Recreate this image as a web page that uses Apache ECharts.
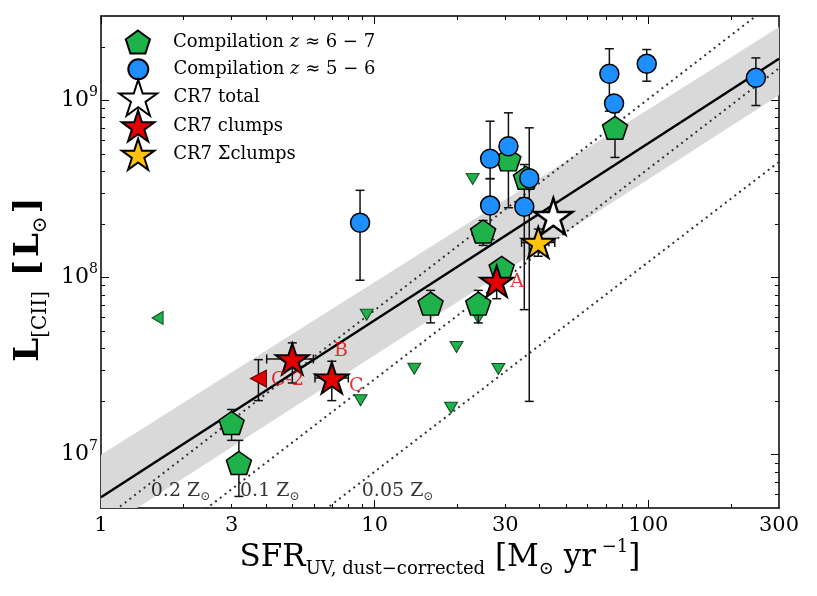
<!DOCTYPE html>
<html><head><meta charset="utf-8">
<script src="https://cdn.jsdelivr.net/npm/echarts@6/dist/echarts.min.js"></script>
<style>html,body{margin:0;padding:0;background:#fff}#c{width:817px;height:596px}</style>
</head><body><div id="c"></div>
<script>
// ---------------- data ----------------
// Compilation z~6-7 (pentagons)
const pentX = [3.00, 3.19, 16.0, 23.9, 24.9, 29.1, 30.8, 35.7, 75.5];
const pentY = [1.51e7, 8.98e6, 7.13e7, 7.13e7, 1.82e8, 1.135e8, 4.65e8, 3.66e8, 7.01e8];
const pentLo = [1.205e7, 5.81e6, 5.55e7, 5.55e7, 1.52e8, null, null, null, 4.77e8];
const pentHi = [1.80e7, 1.205e7, 8.47e7, 8.47e7, 2.10e8, null, null, null, 8.56e8];
// Compilation z~5-6 (circles)
const circX = [8.84, 26.4, 30.8, 26.4, 35.2, 36.7, 72.0, 74.9, 98.6, 247];
const circY = [2.04e8, 4.69e8, 5.52e8, 2.55e8, 2.51e8, 3.64e8, 1.415e9, 9.62e8, 1.61e9, 1.343e9];
const circLo = [9.66e7, 3.62e8, 2.48e8, 1.64e8, 6.59e7, 2.0e7, 8.70e8, null, 1.285e9, 9.37e8];
const circHi = [3.11e8, 7.64e8, 8.52e8, 3.62e8, 4.35e8, 7.01e8, 1.96e9, null, 1.94e9, 1.74e9];
// upper limits z~6-7 (down triangles)
const triX = [9.35, 8.88, 13.95, 19.9, 19.0, 28.3, 22.8, 23.9];
const triY = [6.18e7, 2.03e7, 3.06e7, 4.06e7, 1.84e7, 3.05e7, 3.61e8, 5.92e7];
// limits in SFR (left triangles)
const limX = [1.61];
const limY = [5.92e7];
// CR7
const totalX = [44.95], totalY = [2.22e8];
const clumpX = [27.9, 5.00, 6.97];
const clumpY = [9.53e7, 3.47e7, 2.71e7];
const clumpLo = [7.6e7, 2.54e7, 2.02e7];
const clumpHi = [1.16e8, 4.28e7, 3.37e7];
const clumpXLo = [null, 4.03, 6.05];
const clumpXHi = [null, 5.97, 8.01];
const sumX = [39.6], sumY = [1.58e8], sumLo = [1.32e8], sumHi = [1.88e8], sumXLo = [34.4], sumXHi = [45.5];
const c2X = [3.76], c2Y = [2.69e7], c2Lo = [2.02e7], c2Hi = [3.44e7];
// relation, band and metallicity model lines
const lineX = [1, 300];
const relY = [5.75e6, 1.72e9];
const bandLo = [3.7e6, 1.07e9];
const bandHi = [1.0e7, 2.6e9];
const z02Y = [4.21e6, 3.78e9];
const z01Y = [1.73e6, 1.52e9];
const z005Y = [5.25e5, 4.5e8];
// annotations
const zLabText = ['0.2 Z{s|⊙}', '0.1 Z{s|⊙}', '0.05 Z{s|⊙}'];
const zLabX = [1.52, 3.22, 8.97];
const zLabY = [6.27e6, 6.27e6, 6.27e6];
const clumpLabText = ['A', 'B', 'C', 'C-2'];
const clumpLabX = [31.3, 7.10, 8.06, 4.18];
const clumpLabY = [9.4e7, 3.83e7, 2.43e7, 2.65e7];
// ticks
const xMajor = [1, 10, 100];
const xMinor = [2,3,4,5,6,7,8,9,20,30,40,50,60,70,80,90,200];
const xLabels = [1, 3, 10, 30, 100, 300];
const yMajor = [1e7, 1e8, 1e9];
const yMinor = [6e6,7e6,8e6,9e6,2e7,3e7,4e7,5e7,6e7,7e7,8e7,9e7,2e8,3e8,4e8,5e8,6e8,7e8,8e8,9e8,2e9];

// ---------------- helpers ----------------
const FONT = 'DejaVu Serif';
function starPath() {
  const p = [];
  for (let i = 0; i < 10; i++) {
    const r = i % 2 === 0 ? 1 : 0.381966;
    const a = (-90 + i * 36) * Math.PI / 180;
    p.push((r * Math.cos(a)).toFixed(4) + ',' + (r * Math.sin(a)).toFixed(4));
  }
  return 'path://M' + p.join(' L') + ' Z';
}
function polyPath(n) {
  const p = [];
  for (let i = 0; i < n; i++) {
    const a = (-90 + i * 360 / n) * Math.PI / 180;
    p.push(Math.cos(a).toFixed(4) + ',' + Math.sin(a).toFixed(4));
  }
  return 'path://M' + p.join(' L') + ' Z';
}
const STAR = starPath();
const PENT = polyPath(5);
const TRI_DOWN = 'path://M0,0 L10,0 L5,9 Z';
const TRI_LEFT = 'path://M9,0 L9,10 L0,5 Z';
const zip = (a, b) => a.map((v, i) => [v, b[i]]);

const vErr = [], hErr = [];
function addV(xs, lo, hi) { xs.forEach((x, i) => { if (lo[i] != null && hi[i] != null) vErr.push([x, lo[i], hi[i]]); }); }
function addH(ys, lo, hi) { ys.forEach((y, i) => { if (lo[i] != null && hi[i] != null) hErr.push([y, lo[i], hi[i]]); }); }
addV(pentX, pentLo, pentHi);
addV(circX, circLo, circHi);
addV(clumpX, clumpLo, clumpHi);
addH(clumpY, clumpXLo, clumpXHi);
addV(sumX, sumLo, sumHi);
addH(sumY, sumXLo, sumXHi);
addV(c2X, c2Lo, c2Hi);

const ERR = { stroke: '#111', lineWidth: 1.5 };
const CAP = 4.5;
function vErrRender(params, api) {
  const a = api.coord([api.value(0), api.value(1)]);
  const b = api.coord([api.value(0), api.value(2)]);
  return { type: 'group', children: [
    { type: 'line', shape: { x1: a[0], y1: a[1], x2: b[0], y2: b[1] }, style: ERR },
    { type: 'line', shape: { x1: a[0] - CAP, y1: a[1], x2: a[0] + CAP, y2: a[1] }, style: ERR },
    { type: 'line', shape: { x1: b[0] - CAP, y1: b[1], x2: b[0] + CAP, y2: b[1] }, style: ERR }
  ]};
}
function hErrRender(params, api) {
  const a = api.coord([api.value(1), api.value(0)]);
  const b = api.coord([api.value(2), api.value(0)]);
  return { type: 'group', children: [
    { type: 'line', shape: { x1: a[0], y1: a[1], x2: b[0], y2: b[1] }, style: ERR },
    { type: 'line', shape: { x1: a[0], y1: a[1] - CAP, x2: a[0], y2: a[1] + CAP }, style: ERR },
    { type: 'line', shape: { x1: b[0], y1: b[1] - CAP, x2: b[0], y2: b[1] + CAP }, style: ERR }
  ]};
}
function bandRender(params, api) {
  const pts = [];
  lineX.forEach((x, i) => pts.push(api.coord([x, bandHi[i]])));
  for (let i = lineX.length - 1; i >= 0; i--) pts.push(api.coord([lineX[i], bandLo[i]]));
  return { type: 'polygon', shape: { points: pts }, style: { fill: '#d9d9d9' } };
}

// ---------------- axes ----------------
function xAx(pos, ticks, len, withLabels, showLine) {
  const ax = {
    type: 'log', logBase: 10, min: 1, max: 300, position: pos, gridIndex: 0,
    axisLine: { show: showLine, lineStyle: { color: '#000', width: 1.5 } },
    axisTick: { show: true, inside: true, length: len, customValues: ticks, lineStyle: { color: '#000', width: 1 } },
    axisLabel: { show: false },
    splitLine: { show: false }, minorTick: { show: false }, minorSplitLine: { show: false }
  };
  if (withLabels) {
    ax.axisLabel = { show: true, customValues: xLabels, showMinLabel: true, showMaxLabel: true, hideOverlap: false,
      fontFamily: FONT, fontSize: 21, color: '#000', margin: 7,
      formatter: v => String(Math.round(v)) };
    ax.name = 'SFR{sub|UV, dust−corrected} [M{sub|⊙} yr{sup| −1}]';
    ax.nameLocation = 'middle';
    ax.nameGap = 30;
    ax.nameMoveOverlap = false;
    ax.nameTextStyle = { fontFamily: FONT, fontSize: 31, color: '#000', lineHeight: 40,
      rich: { sub: { fontFamily: FONT, fontSize: 18, lineHeight: 19, verticalAlign: 'bottom', color: '#000' },
              sup: { fontFamily: FONT, fontSize: 18, lineHeight: 25, verticalAlign: 'top', color: '#000' } } };
  }
  return ax;
}
function yAx(pos, ticks, len, withLabels, showLine) {
  const ax = {
    type: 'log', logBase: 10, min: 5e6, max: 3e9, position: pos, gridIndex: 0,
    axisLine: { show: showLine, lineStyle: { color: '#000', width: 1.5 } },
    axisTick: { show: true, inside: true, length: len, customValues: ticks, lineStyle: { color: '#000', width: 1 } },
    axisLabel: { show: false },
    splitLine: { show: false }, minorTick: { show: false }, minorSplitLine: { show: false }
  };
  if (withLabels) {
    ax.axisLabel = { show: true, customValues: yMajor, showMinLabel: true, showMaxLabel: true, hideOverlap: false,
      fontFamily: FONT, fontSize: 22, color: '#000', margin: 3, lineHeight: 30,
      formatter: v => '10{sup|' + Math.round(Math.log10(v)) + '}',
      rich: { sup: { fontFamily: FONT, fontSize: 14, lineHeight: 14, verticalAlign: 'top', color: '#000' } } };
    ax.name = '{b|L}{s|[CII]}{sp| }{br|[}{b|L}{s|⊙}{br|]}';
    ax.nameLocation = 'middle';
    ax.nameGap = 50;
    ax.nameMoveOverlap = false;
    ax.nameTextStyle = { fontFamily: FONT, fontSize: 34, fontWeight: 'bold', color: '#000', lineHeight: 44,
      padding: [0, 32, 0, 0],
      rich: { b: { fontFamily: FONT, fontSize: 34, fontWeight: 'bold', lineHeight: 44, color: '#000' },
              br: { fontFamily: FONT, fontSize: 34, fontWeight: 'bold', lineHeight: 44, color: '#000', padding: [0, 3, 0, 3] },
              sp: { fontFamily: FONT, fontSize: 34, fontWeight: 'bold', lineHeight: 44, color: '#000' },
              s: { fontFamily: FONT, fontSize: 20, fontWeight: 'normal', lineHeight: 21, verticalAlign: 'bottom', color: '#000' } } };
  }
  return ax;
}

// ---------------- series ----------------
const NAME_P = 'Compilation z ≈ 6 − 7';
const NAME_C = 'Compilation z ≈ 5 − 6';
const NAME_T = 'CR7 total';
const NAME_K = 'CR7 clumps';
const NAME_S = 'CR7 Σclumps';
const GREEN = '#1fb24b', BLUE = '#1e8fff', RED = '#e30000', GOLD = '#ffc30f';
const DOT = { color: '#333', width: 2, type: [2, 4] };

const series = [
  { type: 'custom', name: 'band', renderItem: bandRender, data: [[lineX[0], relY[0]]], encode: { x: 0, y: 1 }, clip: true, silent: true, z: 1 },
  { type: 'line', name: 'z02', data: zip(lineX, z02Y), symbol: 'none', silent: true, z: 2, lineStyle: DOT },
  { type: 'line', name: 'z01', data: zip(lineX, z01Y), symbol: 'none', silent: true, z: 2, lineStyle: DOT },
  { type: 'line', name: 'z005', data: zip(lineX, z005Y), symbol: 'none', silent: true, z: 2, lineStyle: DOT },
  { type: 'line', name: 'rel', data: zip(lineX, relY), symbol: 'none', silent: true, z: 3, lineStyle: { color: '#000', width: 2.5 } },
  { type: 'scatter', name: 'triDown', data: zip(triX, triY), symbol: TRI_DOWN, symbolSize: [13, 11], z: 4,
    itemStyle: { color: GREEN, borderColor: '#0d4a1e', borderWidth: 1, opacity: 1 } },
  { type: 'scatter', name: 'triLeft', data: zip(limX, limY), symbol: TRI_LEFT, symbolSize: [11, 13], z: 4,
    itemStyle: { color: GREEN, borderColor: '#0d4a1e', borderWidth: 1, opacity: 1 } },
  { type: 'custom', name: 'vErr', renderItem: vErrRender, data: vErr, encode: { x: 0, y: [1, 2] }, clip: true, silent: true, z: 5 },
  { type: 'custom', name: 'hErr', renderItem: hErrRender, data: hErr, encode: { y: 0, x: [1, 2] }, clip: true, silent: true, z: 5 },
  { type: 'scatter', name: NAME_P, data: zip(pentX, pentY), symbol: PENT, symbolSize: [25, 23], z: 6,
    itemStyle: { color: GREEN, borderColor: '#000', borderWidth: 1.5, opacity: 1 } },
  { type: 'scatter', name: NAME_C, data: zip(circX, circY), symbol: 'circle', symbolSize: 19, z: 7,
    itemStyle: { color: BLUE, borderColor: '#000', borderWidth: 1.5, opacity: 1 } },
  { type: 'scatter', name: 'C-2', data: zip(c2X, c2Y), symbol: TRI_LEFT, symbolSize: [16, 17], z: 8,
    itemStyle: { color: RED, borderColor: '#5a0000', borderWidth: 1, opacity: 1 } },
  { type: 'scatter', name: NAME_T, data: zip(totalX, totalY), symbol: STAR, symbolSize: [38, 36], z: 8,
    itemStyle: { color: '#fff', borderColor: '#000', borderWidth: 2.5, opacity: 1 } },
  { type: 'scatter', name: NAME_K, data: zip(clumpX, clumpY), symbol: STAR, symbolSize: [33, 31], z: 8,
    itemStyle: { color: RED, borderColor: '#000', borderWidth: 2, opacity: 1 } },
  { type: 'scatter', name: NAME_S, data: zip(sumX, sumY), symbol: STAR, symbolSize: [33, 31], z: 8,
    itemStyle: { color: GOLD, borderColor: '#000', borderWidth: 2, opacity: 1 } },
  { type: 'scatter', name: 'zlabels', data: zip(zLabX, zLabY),
    symbolSize: 0, silent: true, z: 9,
    label: { show: true, position: [0, 0], align: 'left', verticalAlign: 'middle',
      formatter: p => zLabText[p.dataIndex], fontFamily: FONT, fontSize: 19, color: '#000', lineHeight: 24,
      rich: { s: { fontFamily: FONT, fontSize: 12, lineHeight: 12, verticalAlign: 'bottom', color: '#000' } } } },
  { type: 'scatter', name: 'clabels', data: zip(clumpLabX, clumpLabY),
    symbolSize: 0, silent: true, z: 9,
    label: { show: true, position: [0, 0], align: 'left', verticalAlign: 'middle',
      formatter: p => clumpLabText[p.dataIndex], fontFamily: FONT, fontSize: 19, color: RED } }
];

// ---------------- legends ----------------
function leg(name, icon, w, h, cy, text) {
  const left = 137.3 - w / 2;
  return {
    data: [{ name: name, icon: icon }], selectedMode: false, orient: 'horizontal', padding: 0,
    left: left, top: cy - h / 2, itemWidth: w, itemHeight: h,
    formatter: () => text,
    textStyle: { fontFamily: FONT, fontSize: 18, color: '#000', padding: [0, 0, 0, 172.5 - (left + w + 5)],
      rich: { i: { fontFamily: FONT, fontSize: 18, fontStyle: 'italic', color: '#000' } } }
  };
}
const legends = [
  leg(NAME_P, PENT, 25, 23, 41, 'Compilation {i|z} ≈ 6 − 7'),
  leg(NAME_C, 'circle', 20, 20, 68.3, 'Compilation {i|z} ≈ 5 − 6'),
  leg(NAME_T, STAR, 38, 36, 96.7, 'CR7 total'),
  leg(NAME_K, STAR, 33, 31, 125, 'CR7 clumps'),
  leg(NAME_S, STAR, 33, 31, 153.3, 'CR7 Σclumps')
];

const option = {
  animation: false,
  backgroundColor: '#fff',
  grid: { left: 101, top: 16, width: 678, height: 492, containLabel: false, outerBoundsMode: 'none' },
  xAxis: [
    xAx('bottom', xMajor, 8, true, true),
    xAx('bottom', xMinor, 4, false, false),
    xAx('top', xMajor, 8, false, true),
    xAx('top', xMinor, 4, false, false)
  ],
  yAxis: [
    yAx('left', yMajor, 8, true, true),
    yAx('left', yMinor, 4, false, false),
    yAx('right', yMajor, 8, false, true),
    yAx('right', yMinor, 4, false, false)
  ],
  legend: legends,
  series: series
};
const chart = echarts.init(document.getElementById('c'), null, { renderer: 'canvas' });
chart.setOption(option);
</script></body></html>
